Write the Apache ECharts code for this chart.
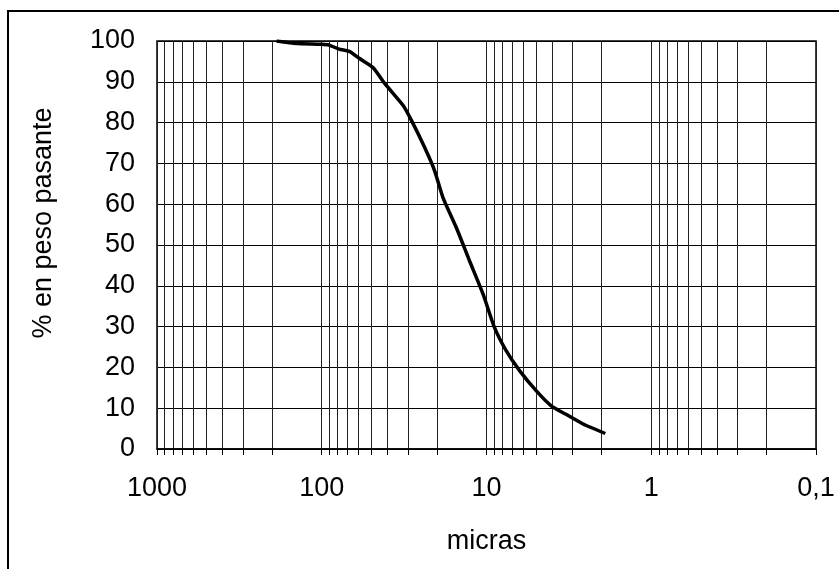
<!DOCTYPE html>
<html>
<head>
<meta charset="utf-8">
<script src="https://cdn.jsdelivr.net/npm/echarts@6/dist/echarts.min.js"></script>
<style>
  html, body { margin: 0; padding: 0; background: #fff; }
  #chart { width: 839px; height: 569px; }
</style>
</head>
<body>
<div id="chart"></div>
<script>
// tamaño de partícula (micras) y % pasante
const sizes = [188, 142, 100.4, 90.3, 78.5, 67.6, 58.9, 48.9, 41.5, 32.2, 28.6, 23.8, 20.7, 18.4, 15.3, 12.7, 10.5, 8.95, 7.6, 6.3, 5.0, 4.05, 3.29, 2.61, 1.9]
const passing = [100, 99.4, 99.2, 99.0, 98.0, 97.4, 95.7, 93.5, 89.6, 84.3, 80.6, 74.0, 68.3, 61.7, 54.4, 46.2, 38.0, 29.8, 24.1, 19.2, 14.3, 10.6, 8.5, 6.2, 3.8]

const xLabels = [1000, 100, 10, 1, 0.1]
const decades = [0.1, 1, 10, 100]
const yTicks = [0, 10, 20, 30, 40, 50, 60, 70, 80, 90, 100]

// líneas verticales en 1..9 de cada década
const gridValues = []
decades.forEach(d => {
  for (let k = 1; k <= 9; k++) gridValues.push(+(d * k).toPrecision(3))
})
gridValues.push(1000)

const chart = echarts.init(document.getElementById('chart'))

const font = 'Liberation Sans, Arial, sans-serif'
const fontSize = 27

const option = {
  animation: false,
  backgroundColor: '#fff',
  graphic: [
    {
      type: 'rect',
      shape: { x: 8, y: 11, width: 900, height: 600 },
      style: { fill: 'none', stroke: '#000', lineWidth: 2 },
      z: -1
    }
  ],
  grid: {
    left: 157,
    top: 41,
    right: 23,
    bottom: 120,
    show: true,
    borderColor: '#000',
    borderWidth: 1.5,
    backgroundColor: 'transparent'
  },
  xAxis: {
    type: 'log',
    logBase: 10,
    min: 0.1,
    max: 1000,
    inverse: true,
    name: 'micras',
    nameLocation: 'middle',
    nameGap: 79,
    nameTextStyle: { fontFamily: font, fontSize: fontSize, color: '#000' },
    axisLine: { show: true, lineStyle: { color: '#000', width: 1.5 } },
    axisTick: {
      show: true,
      length: 6,
      customValues: gridValues,
      lineStyle: { color: '#000', width: 1 }
    },
    axisLabel: {
      customValues: xLabels,
      margin: 26,
      fontFamily: font,
      fontSize: fontSize,
      color: '#000',
      formatter: v => String(v).replace('.', ',')
    },
    splitLine: { show: true, lineStyle: { color: '#222', width: 1 } }
  },
  yAxis: {
    type: 'value',
    min: 0,
    max: 100,
    interval: 10,
    name: '% en peso pasante',
    nameLocation: 'middle',
    nameGap: 100,
    nameRotate: 90,
    nameTextStyle: { fontFamily: font, fontSize: fontSize, color: '#000', padding: [0, 0, 0, 44] },
    axisLine: { show: false },
    axisTick: { show: false },
    axisLabel: {
      margin: 22,
      fontFamily: font,
      fontSize: fontSize,
      color: '#000',
      formatter: v => yTicks.includes(v) ? String(v) : ''
    },
    splitLine: { show: true, lineStyle: { color: '#000', width: 1 } }
  },
  series: [
    {
      type: 'line',
      data: sizes.map((s, i) => [s, passing[i]]),
      showSymbol: false,
      smooth: 0.2,
      lineStyle: { color: '#000', width: 3.5 },
      z: 5
    }
  ]
}

chart.setOption(option)
</script>
</body>
</html>
